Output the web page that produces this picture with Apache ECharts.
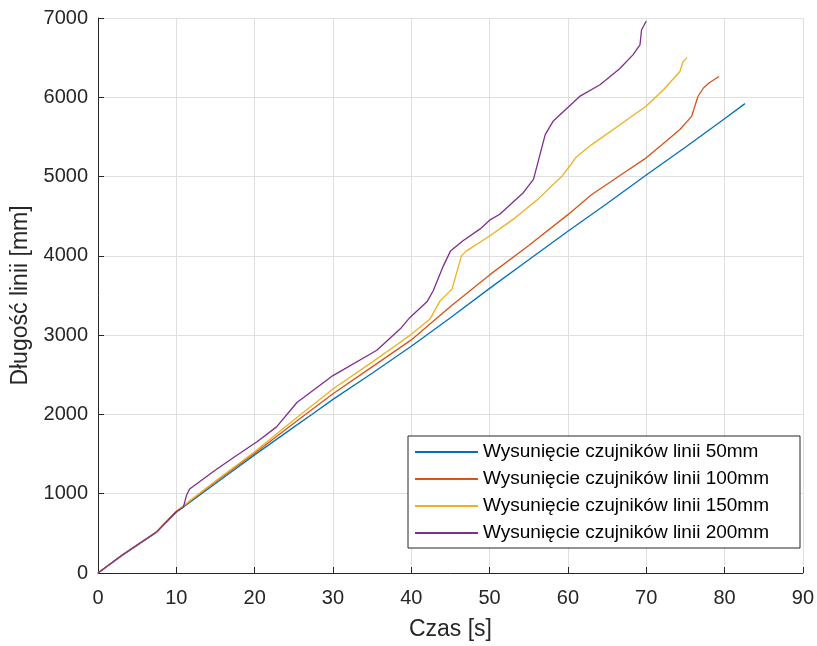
<!DOCTYPE html>
<html>
<head>
<meta charset="utf-8">
<script src="https://cdn.jsdelivr.net/npm/echarts@6/dist/echarts.min.js"></script>
<style>
  html, body { margin: 0; padding: 0; background: #fff; }
  #chart { width: 817px; height: 646px; }
</style>
</head>
<body>
<div id="chart"></div>
<script>
// Measured line length over time for four sensor offsets
const seriesNames = [
  'Wysunięcie czujników linii 50mm',
  'Wysunięcie czujników linii 100mm',
  'Wysunięcie czujników linii 150mm',
  'Wysunięcie czujników linii 200mm'
];

const t50 = [0, 3, 7.5, 10, 15, 20, 25, 27.3, 30, 35, 40, 45, 50, 55, 60, 65, 70, 75, 80, 82.6];
const v50 = [0, 215, 515, 765, 1130, 1490, 1840, 2000, 2190, 2520, 2860, 3220, 3590, 3950, 4310, 4660, 5020, 5370, 5730, 5920];

const t100 = [0, 3, 7.5, 10, 15, 20, 25, 30, 35, 40, 45, 50, 55, 60, 63, 66.6, 70, 72, 74.3, 75.8, 76.6, 77.3, 78, 79.3];
const v100 = [0, 220, 520, 775, 1150, 1510, 1890, 2260, 2600, 2940, 3360, 3760, 4130, 4520, 4770, 5010, 5236, 5400, 5593, 5760, 6010, 6117, 6180, 6263];

const t150 = [0, 3, 7.5, 10, 15, 20, 25, 30, 35, 38.6, 40, 42.4, 43.7, 45.2, 46.4, 47, 50, 53, 56, 59.2, 60.2, 61, 63, 66.6, 70, 72.2, 74.3, 74.7, 75.2];
const v150 = [0, 220, 520, 780, 1160, 1530, 1930, 2320, 2660, 2910, 3010, 3205, 3435, 3580, 4000, 4060, 4250, 4460, 4700, 5000, 5130, 5240, 5400, 5650, 5890, 6095, 6325, 6450, 6500];

const t200 = [0, 3, 7.5, 10, 10.9, 11.3, 11.7, 15, 17.5, 20.3, 22.8, 25.4, 30, 35.6, 38.6, 39.8, 42, 42.8, 44.1, 45, 46.6, 48.8, 50, 51.3, 54.3, 55.6, 57.1, 58.1, 61.5, 64.1, 66.6, 68.3, 69.2, 69.4, 70];
const v200 = [0, 220, 520, 775, 830, 980, 1060, 1300, 1470, 1655, 1843, 2150, 2490, 2810, 3080, 3220, 3420, 3560, 3874, 4060, 4190, 4340, 4450, 4524, 4797, 4964, 5530, 5697, 6011, 6158, 6360, 6535, 6661, 6849, 6962];

const xTicks = [0, 10, 20, 30, 40, 50, 60, 70, 80, 90];
const yTicks = [0, 1000, 2000, 3000, 4000, 5000, 6000, 7000];

const colors = ['#0072BD', '#D95319', '#EDB120', '#7E2F8E'];
const times = [t50, t100, t150, t200];
const values = [v50, v100, v150, v200];

const ink = '#262626';
const font = '"Liberation Sans", Arial, sans-serif';

const chart = echarts.init(document.getElementById('chart'), null, { renderer: 'canvas' });

chart.setOption({
  animation: false,
  backgroundColor: '#ffffff',
  grid: { left: 98, right: 14, top: 18, bottom: 71, containLabel: false },
  xAxis: {
    type: 'value',
    min: xTicks[0],
    max: xTicks[xTicks.length - 1],
    interval: 10,
    name: 'Czas [s]',
    nameLocation: 'middle',
    nameGap: 45,
    nameTextStyle: { color: ink, fontSize: 23, fontFamily: font },
    axisLine: { show: true, onZero: false, lineStyle: { color: ink, width: 1 } },
    axisTick: { show: true, inside: true, length: 6, lineStyle: { color: ink } },
    axisLabel: { color: ink, fontSize: 20, fontFamily: font, margin: 15, formatter: v => String(v) },
    splitLine: { show: true, lineStyle: { color: '#dfdfdf', width: 1 } }
  },
  yAxis: {
    type: 'value',
    min: yTicks[0],
    max: yTicks[yTicks.length - 1],
    interval: 1000,
    name: 'Długość linii [mm]',
    nameLocation: 'middle',
    nameGap: 63,
    nameTextStyle: { color: ink, fontSize: 23, fontFamily: font },
    axisLine: { show: true, onZero: false, lineStyle: { color: ink, width: 1 } },
    axisTick: { show: true, inside: true, length: 6, lineStyle: { color: ink } },
    axisLabel: { color: ink, fontSize: 20, fontFamily: font, margin: 10, formatter: v => String(v) },
    splitLine: { show: true, lineStyle: { color: '#dfdfdf', width: 1 } }
  },
  legend: {
    data: seriesNames,
    orient: 'vertical',
    left: 408,
    top: 436,
    icon: 'rect',
    itemWidth: 63,
    itemHeight: 2,
    itemGap: 7,
    itemTextGap: 7,
    padding: [6, 8, 5, 7],
    borderColor: ink,
    borderWidth: 1,
    backgroundColor: '#ffffff',
    textStyle: { color: '#000000', fontSize: 19, fontFamily: font, lineHeight: 20, width: 309 }
  },
  series: seriesNames.map((name, i) => ({
    name: name,
    type: 'line',
    data: times[i].map((t, k) => [t, values[i][k]]),
    showSymbol: false,
    symbol: 'none',
    color: colors[i],
    lineStyle: { color: colors[i], width: 1.3 },
    z: 2 + i
  }))
});
</script>
</body>
</html>
